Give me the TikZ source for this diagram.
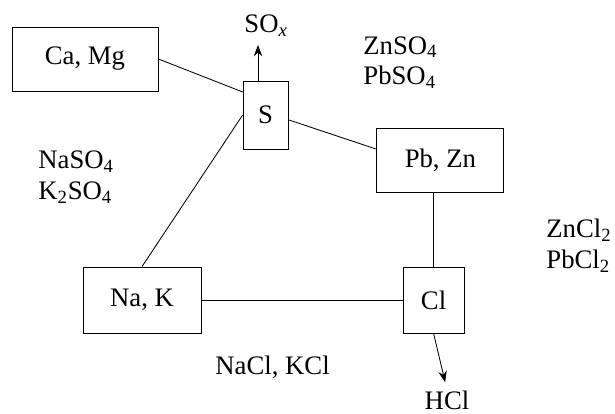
\documentclass[tikz,border=0pt]{standalone}
\usepackage{fontspec}
\setmainfont{Liberation Serif}
\usepackage{tikz}
\usetikzlibrary{calc,arrows.meta,positioning}

\begin{document}
\begin{tikzpicture}[x=1cm,y=1cm,font=\fontsize{19}{22}\selectfont,line width=0.6pt,
      elem/.style={draw=black,inner sep=0pt,align=center},
      salt/.style={inner sep=0pt,anchor=west,align=left},
      gas/.style={inner sep=0pt,anchor=base},
      flow/.style={-{Stealth[length=8pt,width=6pt]},shorten >=0.2cm}]
    \useasboundingbox (0,0) rectangle (15.375,10.325);
    % elements
    \node[elem,minimum width=3.65cm,minimum height=1.6cm]   (CaMg) at (2.125,8.85)  {Ca, Mg};
    \node[elem,minimum width=1.125cm,minimum height=1.7cm]  (S)    at (6.64,7.45)   {S};
    \node[elem,minimum width=3.175cm,minimum height=1.6cm]  (PbZn) at (11.01,6.325) {Pb, Zn};
    \node[elem,minimum width=2.95cm,minimum height=1.65cm]  (NaK)  at (3.55,2.825)  {Na, K};
    \node[elem,minimum width=1.525cm,minimum height=1.65cm] (Cl)   at (10.84,2.825) {Cl};
    % products
    \node[salt] (NaSalt) at (0.95,5.89)  {NaSO\textsubscript{4}\\K\textsubscript{2}SO\textsubscript{4}};
    \node[salt] (ZnSalt) at (9.075,8.76) {ZnSO\textsubscript{4}\\PbSO\textsubscript{4}};
    \node[salt] (ZnCl)   at (13.65,4.175) {ZnCl\textsubscript{2}\\PbCl\textsubscript{2}};
    \node[salt] (NaCl)   at (5.375,1.15) {NaCl, KCl};
    \node[gas] (SOx) at (6.65,9.5)   {SO\textsubscript{\textit{x}}};
    \node[gas] (HCl) at (11.175,0.1) {HCl};
    % links
    \draw (CaMg.east) -- ([yshift=0.575cm]S.west);
    \draw ([yshift=-0.12cm]S.east) -- ([yshift=0.27cm]PbZn.west);
    \draw (S.west) -- (NaK.north);
    \draw (NaK.east) -- (Cl.west);
    \draw (Cl.north) -- (Cl.north |- PbZn.south);
    \draw[flow] ([xshift=-0.19cm]S.north) -- ([xshift=-0.19cm]S.north |- SOx.south);
    \draw[flow] (Cl.south) -- (HCl.north);
  \end{tikzpicture}
\end{document}
